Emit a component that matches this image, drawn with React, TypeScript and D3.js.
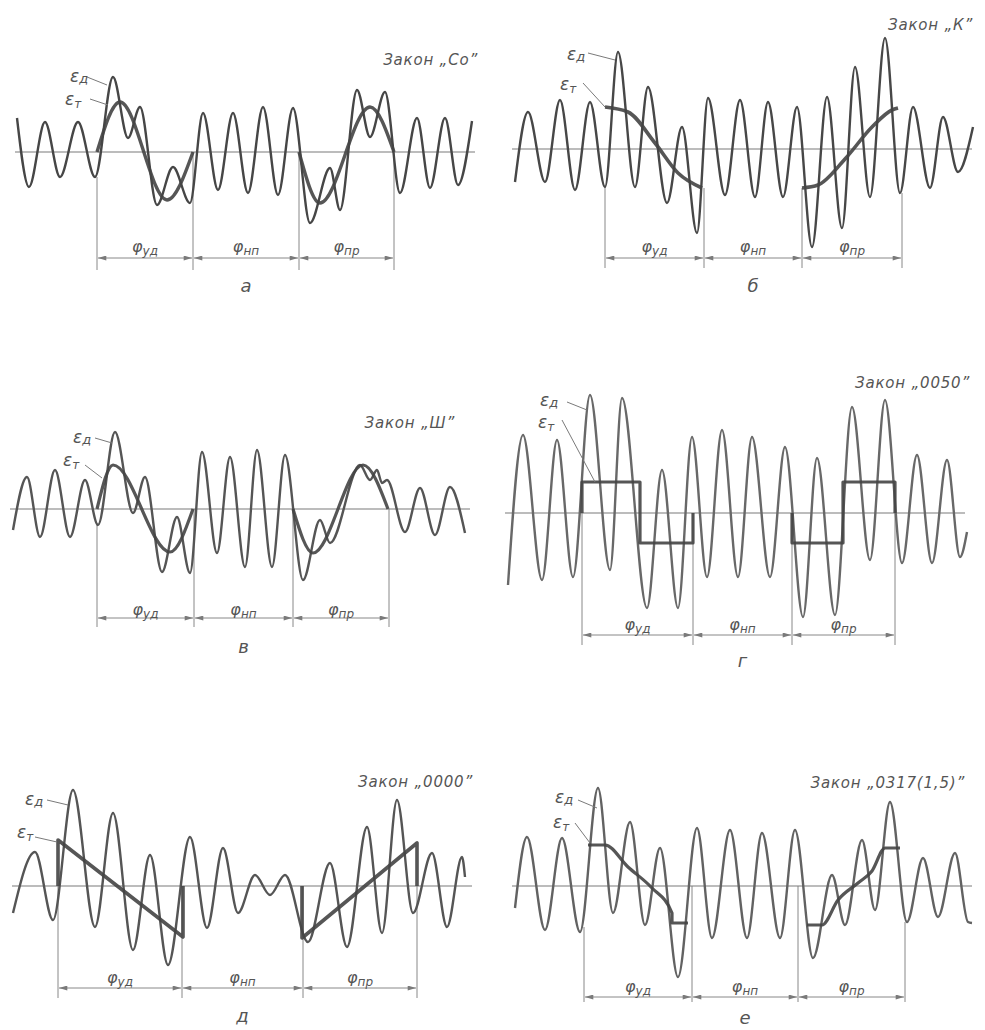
import React from 'react';
import * as d3 from 'd3';

type Pt = [number, number];

// extrema of the real curve (εд) and the theoretical one (εт) for each law
// x: angle along the cam, y: amplitude, both in drawing units

// а – закон "Со"
const waveA: Pt[] = [[0.2,3.4],[1.4,-3.5],[3.0,3.0],[4.5,-2.5],[6.3,3.0],[8.0,-2.5],[9.8,7.5],[11.3,1.4],[12.5,4.5],[14.2,-5.3],[15.8,-1.5],[17.5,-5.1],[18.8,3.9],[20.3,-3.8],[21.8,3.9],[23.3,-4.1],[24.8,4.5],[26.3,-4.3],[27.8,4.4],[29.5,-7.1],[31.5,-1.6],[32.5,-5.8],[34.2,6.2],[35.5,1.5],[37.0,6.0],[38.5,-4.1],[40.2,3.4],[41.5,-3.6],[43.0,3.4],[44.3,-3.3],[45.7,3.1]];
const trueA: Pt[][] = [
  [[8.2,0],[10.5,5.0],[15.2,-4.8],[17.8,0]],
  [[28.4,0],[30.5,-5.1],[35.5,4.5],[37.9,0]],
];
const phasesA = [8.2, 17.8, 28.4, 37.9];
const topsA = [-2.5, 0, 0, 0];

// б – закон "К"
const waveB: Pt[] = [[0.3,-3.3],[1.6,3.7],[3.3,-3.3],[4.8,4.9],[6.3,-4.1],[7.8,4.7],[9.3,-3.8],[10.6,9.7],[12.3,-3.8],[13.6,6.2],[15.5,-5.4],[17.0,2.2],[18.5,-8.4],[19.6,5.1],[21.3,-4.6],[22.8,4.9],[24.3,-4.8],[25.6,4.7],[27.1,-4.8],[28.5,4.2],[30.0,-9.8],[31.5,5.2],[33.0,-7.9],[34.3,8.2],[35.8,-4.8],[37.3,11.1],[38.8,-4.4],[40.1,4.2],[41.8,-3.9],[43.1,3.2],[44.6,-2.3],[46.1,2.2]];
const trueB: Pt[][] = [
  [[9.3,4.2],[11.6,3.7],[14.3,0.6],[16.6,-2.4],[19.0,-3.9]],
  [[29.0,-3.9],[30.6,-3.6],[33.3,-1.0],[36.0,2.2],[38.0,3.9],[38.6,4.1]],
];
const phasesB = [9.3, 19.2, 29.0, 39.0];
const topsB = [-3.8, -3.9, -3.9, -4.4];

// в – закон "Ш"
const waveV: Pt[] = [[0.3,-2.1],[1.7,3.2],[3.0,-2.8],[4.5,3.9],[6.0,-2.8],[7.5,2.9],[8.8,-1.6],[10.5,7.7],[12.3,-0.4],[13.5,3.2],[15.2,-6.3],[16.7,-0.8],[18.0,-6.4],[19.2,5.7],[20.7,-4.4],[22.0,5.2],[23.5,-5.8],[24.7,5.9],[26.2,-5.8],[27.5,5.4],[29.3,-7.1],[31.0,-1.1],[32.0,-3.4],[35.0,4.4],[36.0,2.9],[36.7,3.9],[37.2,2.6],[37.7,2.9],[39.5,-2.3],[41.0,2.1],[42.5,-2.6],[44.0,2.2],[45.5,-2.4]];
const trueV: Pt[][] = [
  [[8.7,0],[10.3,4.4],[16.0,-4.3],[18.3,0]],
  [[28.3,0],[30.3,-4.4],[35.3,4.4],[37.8,0]],
];
const phasesV = [8.7, 18.4, 28.3, 37.9];
const topsV = [-1.4, 0, 0, 0];

// г – закон "0050"
const waveG: Pt[] = [[0.3,-7.2],[1.8,7.8],[3.7,-6.7],[5.2,7.3],[6.8,-6.4],[8.5,11.8],[10.5,-5.7],[11.7,11.5],[14.2,-9.5],[15.7,4.3],[17.3,-9.5],[18.7,7.6],[20.2,-6.4],[21.7,8.3],[23.3,-6.4],[24.7,7.6],[26.5,-6.4],[28.0,6.6],[29.8,-10.4],[31.2,5.5],[33.0,-10.2],[34.7,10.6],[36.5,-4.7],[38.0,11.3],[39.7,-5.0],[41.2,5.8],[42.7,-5.0],[44.2,5.3],[45.5,-4.4],[46.2,-1.9]];
const trueG: Pt[][] = [
  [[7.7,0],[7.7,3.1],[13.5,-3.0],[18.8,0]],
  [[28.7,0],[28.7,-3.0],[33.8,3.1],[39.0,0]],
];
const phasesG = [7.7, 18.8, 28.7, 39.0];
const topsG = [0, 0, 0, 0];

// д – закон "0000"
const waveD: Pt[] = [[0.1,-2.7],[2.3,3.4],[4.1,-3.4],[6.1,9.6],[8.3,-4.1],[10.1,7.3],[12.1,-6.4],[13.8,3.1],[15.6,-7.9],[17.8,4.9],[19.5,-4.2],[21.1,3.8],[22.6,-2.7],[24.3,1.1],[25.8,-0.9],[27.3,1.1],[29.6,-5.6],[31.8,2.3],[33.5,-6.1],[35.5,5.9],[37.0,-4.7],[38.5,8.6],[40.1,-2.7],[42.0,3.3],[43.5,-4.1],[45.0,2.9],[45.3,0.9]];
const trueD: Pt[][] = [
  [[4.6,0],[4.6,4.6],[17.1,-5.1],[17.1,0]],
  [[29.0,0],[29.0,-5.2],[40.5,4.3],[40.5,0]],
];
const phasesD = [4.6, 17.0, 29.1, 40.5];
const topsD = [0, 0, 0, 0];

// е – закон "0317(1,5)"
const waveE: Pt[] = [[0.3,-2.2],[1.5,4.9],[3.3,-4.4],[5.0,4.8],[6.8,-4.6],[8.6,9.8],[10.1,-2.7],[11.8,6.4],[13.3,-3.9],[14.8,3.8],[16.6,-9.1],[18.5,5.8],[20.0,-5.2],[21.8,5.6],[23.5,-5.2],[25.0,5.3],[26.8,-5.2],[28.3,5.6],[30.1,-7.2],[32.0,1.1],[33.3,-3.9],[35.0,4.6],[36.3,-2.4],[37.8,8.4],[39.5,-3.6],[41.1,2.8],[42.6,-3.1],[44.3,3.3],[45.6,-3.6],[46.0,-3.7]];
const trueE: Pt[][] = [
  [[7.6,4.1],[9.3,4.1],[11.6,1.9],[14.0,-0.2],[16.0,-2.7],[16.0,-3.7],[17.6,-3.7]],
  [[29.5,-3.9],[31.0,-3.9],[32.6,-1.4],[34.6,0.3],[36.0,1.5],[37.3,3.8],[38.8,3.8]],
];
const phasesE = [7.2, 18.0, 28.6, 39.3];
const topsE = [-4.1, 0, 0, -3.6];

const laws = ['Закон „Со”', 'Закон „К”', 'Закон „Ш”', 'Закон „0050”', 'Закон „0000”', 'Закон „0317(1,5)”'];
const letters = ['а', 'б', 'в', 'г', 'д', 'е'];
const phaseSubs = ['уд', 'нп', 'пр'];

type Cfg = {
  left: number; base: number; wave: Pt[]; truth: Pt[][]; curve: d3.CurveFactory;
  phases: number[]; tops: number[]; law: string; letter: string; color: string;
  arrow: number; bottom: number; label: number; letterY: number;
  lawPos: Pt; ed: Pt; edLead: [Pt, Pt]; et: Pt; etLead: [Pt, Pt]; tWidth: number;
};

const panels: Cfg[] = [
  { left: 15, base: 152, wave: waveA, truth: trueA, curve: d3.curveMonotoneX, phases: phasesA, tops: topsA,
    law: laws[0], letter: letters[0], color: '#464646', arrow: -10.6, bottom: -11.8, label: -9.5, letterY: -13.5,
    lawPos: [46.3, 8.7], ed: [5.5, 7.0], edLead: [[7.2, 7.5], [9.2, 6.7]], et: [5.0, 4.7], etLead: [[7.5, 5.3], [9.3, 4.7]], tWidth: 3.4 },
  { left: 512, base: 149, wave: waveB, truth: trueB, curve: d3.curveMonotoneX, phases: phasesB, tops: topsB,
    law: laws[1], letter: letters[1], color: '#474747', arrow: -10.9, bottom: -11.9, label: -9.8, letterY: -13.8,
    lawPos: [46.1, 11.9], ed: [5.5, 8.9], edLead: [[7.6, 9.6], [10.3, 8.9]], et: [4.8, 5.9], etLead: [[7.1, 6.6], [9.3, 4.2]], tWidth: 3.6 },
  { left: 10, base: 509, wave: waveV, truth: trueV, curve: d3.curveMonotoneX, phases: phasesV, tops: topsV,
    law: laws[2], letter: letters[2], color: '#555', arrow: -10.9, bottom: -11.8, label: -10.1, letterY: -13.9,
    lawPos: [44.5, 8.1], ed: [6.3, 6.6], edLead: [[8.5, 7.1], [10.2, 6.6]], et: [5.3, 4.3], etLead: [[7.5, 4.4], [9.2, 3.1]], tWidth: 3.2 },
  { left: 505, base: 513, wave: waveG, truth: trueG, curve: d3.curveStepAfter, phases: phasesG, tops: topsG,
    law: laws[3], letter: letters[3], color: '#686868', arrow: -12.2, bottom: -13.2, label: -11.2, letterY: -14.9,
    lawPos: [46.5, 12.5], ed: [3.5, 10.7], edLead: [[6.2, 11.1], [8.2, 10.3]], et: [3.3, 8.5], etLead: [[5.7, 9.3], [9.0, 3.1]], tWidth: 3.2 },
  { left: 12, base: 886, wave: waveD, truth: trueD, curve: d3.curveLinear, phases: phasesD, tops: topsD,
    law: laws[4], letter: letters[4], color: '#555', arrow: -10.2, bottom: -11.2, label: -9.2, letterY: -13.1,
    lawPos: [46.1, 9.9], ed: [1.3, 8.1], edLead: [[3.5, 8.6], [5.6, 8.1]], et: [0.5, 4.8], etLead: [[2.3, 4.9], [4.5, 4.4]], tWidth: 3.6 },
  { left: 512, base: 886, wave: waveE, truth: trueE, curve: d3.curveMonotoneX, phases: phasesE, tops: topsE,
    law: laws[5], letter: letters[5], color: '#626262', arrow: -11.1, bottom: -11.6, label: -10.1, letterY: -13.3,
    lawPos: [45.3, 9.8], ed: [4.3, 8.3], edLead: [[6.6, 8.6], [8.5, 7.8]], et: [4.1, 5.8], etLead: [[6.3, 6.3], [7.8, 4.3]], tWidth: 3.2 },
];

const txt = "'DejaVu Sans', 'Liberation Sans', sans-serif";
const thin = '#7a7a7a';

function Panel({ c }: { c: Cfg }) {
  const x = d3.scaleLinear().domain([0, 46]).range([c.left, c.left + 460]);
  const y = d3.scaleLinear().domain([-10, 10]).range([c.base + 100, c.base - 100]);
  const waveLine = d3.line<Pt>().x(d => x(d[0])).y(d => y(d[1])).curve(d3.curveMonotoneX);
  const trueLine = d3.line<Pt>().x(d => x(d[0])).y(d => y(d[1])).curve(c.curve);

  return (
    <g>
      {/* zero line */}
      <line x1={x(0)} x2={x(46)} y1={y(0)} y2={y(0)} stroke={thin} strokeWidth={1.1} />

      {/* phase boundaries */}
      {c.phases.map((p, i) => (
        <line key={'v' + i} x1={x(p)} x2={x(p)} y1={y(c.tops[i])} y2={y(c.bottom)} stroke={thin} strokeWidth={0.9} />
      ))}
      {c.phases.slice(0, -1).map((p, i) => (
        <line key={'a' + i} x1={x(p) + 1} x2={x(c.phases[i + 1]) - 1} y1={y(c.arrow)} y2={y(c.arrow)}
          stroke={thin} strokeWidth={0.9} markerStart="url(#arr)" markerEnd="url(#arr)" />
      ))}
      {c.phases.slice(0, -1).map((p, i) => (
        <text key={'l' + i} x={(x(p) + x(c.phases[i + 1])) / 2} y={y(c.label)} textAnchor="middle"
          dominantBaseline="middle" fontFamily={txt} fontStyle="italic" fontSize={16} fill="#555">
          φ<tspan fontSize={12} dy={4}>{phaseSubs[i]}</tspan>
        </text>
      ))}

      {/* curves */}
      <path d={waveLine(c.wave) ?? ''} fill="none" stroke={c.color} strokeWidth={2.4} strokeLinejoin="round" />
      {c.truth.map((seg, i) => (
        <path key={'t' + i} d={trueLine(seg) ?? ''} fill="none" stroke="#444" strokeWidth={c.tWidth} strokeLinejoin="round" opacity={0.9} />
      ))}

      {/* annotations */}
      <text x={x(c.lawPos[0])} y={y(c.lawPos[1])} textAnchor="end" fontFamily={txt} fontStyle="italic" fontSize={15}
        letterSpacing={0.8} fill="#555">{c.law}</text>
      <text x={x(c.ed[0])} y={y(c.ed[1])} fontFamily={txt} fontStyle="italic" fontSize={17} fill="#555">
        ε<tspan fontSize={13} dy={1}>д</tspan>
      </text>
      <text x={x(c.et[0])} y={y(c.et[1])} fontFamily={txt} fontStyle="italic" fontSize={17} fill="#555">
        ε<tspan fontSize={12} dy={3}>т</tspan>
      </text>
      <line x1={x(c.edLead[0][0])} y1={y(c.edLead[0][1])} x2={x(c.edLead[1][0])} y2={y(c.edLead[1][1])} stroke={thin} strokeWidth={1} />
      <line x1={x(c.etLead[0][0])} y1={y(c.etLead[0][1])} x2={x(c.etLead[1][0])} y2={y(c.etLead[1][1])} stroke={thin} strokeWidth={1} />
      <text x={(x(c.phases[1]) + x(c.phases[2])) / 2} y={y(c.letterY)} textAnchor="middle" dominantBaseline="middle"
        fontFamily={txt} fontStyle="italic" fontSize={18} fill="#555">{c.letter}</text>
    </g>
  );
}

export default function App() {
  return (
    <svg width={985} height={1030} style={{ position: 'absolute', left: 0, top: 0, background: '#fff' }}>
      <defs>
        <marker id="arr" viewBox="0 0 10 6" refX={10} refY={3} markerWidth={9} markerHeight={5}
          markerUnits="userSpaceOnUse" orient="auto-start-reverse">
          <path d="M0,0 L10,3 L0,6 Z" fill={thin} />
        </marker>
      </defs>
      {panels.map((c, i) => <Panel key={i} c={c} />)}
    </svg>
  );
}
